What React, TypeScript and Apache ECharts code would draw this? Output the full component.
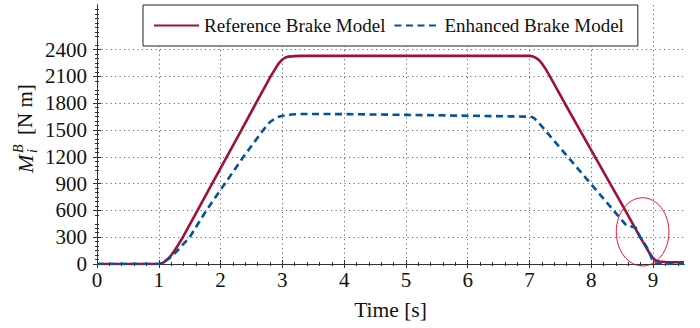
import React, { useEffect, useRef } from "react";
import * as echarts from "echarts";

const REF_TIME = [0, 0.5, 1.0, 1.05, 1.1, 1.15, 1.2, 1.25, 1.3, 1.35, 1.39, 1.627, 1.863, 2.1, 2.337, 2.573, 2.81, 2.88, 2.94, 3.0, 3.05, 3.1, 3.2, 3.3, 3.5, 4, 5, 6, 7.0, 7.05, 7.1, 7.15, 7.2, 7.25, 7.33, 7.57, 7.815, 8.06, 8.305, 8.55, 8.79, 8.93, 8.99, 9.04, 9.1, 9.2, 9.35, 9.5];
const REF_VAL = [0, 0, 0, 8, 28, 58, 97, 145, 198, 255, 300, 600, 900, 1200, 1500, 1800, 2100, 2180, 2245, 2290, 2312, 2322, 2328, 2330, 2330, 2330, 2330, 2330, 2330, 2325, 2310, 2285, 2245, 2195, 2100, 1800, 1500, 1200, 900, 600, 300, 135, 75, 40, 28, 22, 20, 18];

const ENH_TIME = [0, 0.5, 1.0, 1.05, 1.1, 1.2, 1.3, 1.4, 1.5, 1.77, 2.07, 2.37, 2.69, 2.8, 2.87, 2.93, 3.0, 3.1, 3.2, 3.3, 3.5, 4, 5, 6, 7.0, 7.04, 7.08, 7.12, 7.2, 8.57, 8.65, 8.72, 8.79, 8.9, 8.98, 9.02, 9.05, 9.2, 9.5];
const ENH_VAL = [0, 0, 0, 10, 30, 80, 150, 225, 300, 600, 900, 1200, 1500, 1590, 1625, 1645, 1660, 1670, 1676, 1679, 1680, 1678, 1670, 1660, 1650, 1645, 1630, 1600, 1540, 430, 420, 405, 300, 185, 60, 15, 5, 3, 3];

const X_TICKS = [0, 1, 2, 3, 4, 5, 6, 7, 8, 9];
const Y_TICKS = [0, 300, 600, 900, 1200, 1500, 1800, 2100, 2400];

// annotation ellipse: [center time, center value, radius time, radius value]
const ELLIPSE = [[8.83, 360, 0.426, 382]];

const SERIES_NAMES = ["Reference Brake Model", "Enhanced Brake Model"];

const RED = "#A11035";
const BLUE = "#00549F";
const FONT = "Liberation Serif";
const AXIS_COLOR = "#333";
const TEXT = "#111";

export default function App() {
  const ref = useRef<HTMLDivElement>(null);
  useEffect(() => {
    if (!ref.current) return;
    const chart = echarts.init(ref.current, null, { renderer: "svg" });
    const refData = REF_TIME.map((t, i) => [t, REF_VAL[i]]);
    const enhData = ENH_TIME.map((t, i) => [t, ENH_VAL[i]]);
    const commonX = {
      type: "value",
      min: 0,
      max: 9.5,
      axisLine: { show: true, lineStyle: { color: AXIS_COLOR, width: 1 } },
      axisTick: { show: true, inside: true, length: 4, customValues: X_TICKS, lineStyle: { color: AXIS_COLOR } },
      minorTick: { show: true, splitNumber: 10, length: 2, lineStyle: { color: AXIS_COLOR } },
    };
    const commonY = {
      type: "value",
      min: 0,
      max: 2900,
      axisLine: { show: true, lineStyle: { color: AXIS_COLOR, width: 1 } },
      axisTick: { show: true, inside: true, length: 4, customValues: Y_TICKS, lineStyle: { color: AXIS_COLOR } },
      minorTick: { show: true, splitNumber: 10, length: 2, lineStyle: { color: AXIS_COLOR } },
    };
    const gridLine = { type: [1.2, 3.3], color: "#666", width: 1 };
    const fmt = (v: number) => String(v);
    chart.setOption({
      animation: false,
      backgroundColor: "#fff",
      textStyle: { fontFamily: FONT },
      grid: { left: 97, right: 16, top: 5, bottom: 64, containLabel: false },
      legend: {
        data: SERIES_NAMES,
        left: 143,
        top: 5,
        padding: [11, 14, 11, 10],
        itemGap: 8,
        itemWidth: 45,
        itemHeight: 2,
        itemStyle: { opacity: 0 },
        backgroundColor: "#fff",
        borderColor: "#222",
        borderWidth: 1,
        borderRadius: 0,
        textStyle: { fontFamily: FONT, fontSize: 19, color: TEXT },
      },
      xAxis: [
        {
          ...commonX,
          position: "bottom",
          name: "Time [s]",
          nameLocation: "middle",
          nameGap: 35,
          nameTextStyle: { fontFamily: FONT, fontSize: 21.5, color: TEXT },
          axisLabel: { show: true, customValues: X_TICKS, formatter: fmt, margin: 5, fontFamily: FONT, fontSize: 21, color: TEXT },
          splitLine: { show: true, lineStyle: gridLine },
        },
        {
          ...commonX,
          position: "top",
          axisLabel: { show: false },
          splitLine: { show: false },
        },
      ],
      yAxis: [
        {
          ...commonY,
          position: "left",
          axisLabel: { show: true, customValues: Y_TICKS, formatter: fmt, margin: 10, fontFamily: FONT, fontSize: 21, color: TEXT },
          splitLine: { show: true, lineStyle: gridLine },
        },
        {
          ...commonY,
          position: "right",
          axisLabel: { show: false },
          splitLine: { show: false },
        },
      ],
      graphic: [
        {
          type: "group",
          x: 25,
          y: 130,
          rotation: Math.PI / 2,
          children: [
            { type: "text", x: -43, y: 0, style: { text: "M", fontFamily: FONT, fontStyle: "italic", fontSize: 22, fill: TEXT, verticalAlign: "middle", align: "left" } },
            { type: "text", x: -23, y: -7, style: { text: "B", fontFamily: FONT, fontStyle: "italic", fontSize: 14, fill: TEXT, verticalAlign: "middle", align: "left" } },
            { type: "text", x: -23, y: 7, style: { text: "i", fontFamily: FONT, fontStyle: "italic", fontSize: 14, fill: TEXT, verticalAlign: "middle", align: "left" } },
            { type: "text", x: -5, y: 0, style: { text: "[N m]", fontFamily: FONT, fontSize: 21, fill: TEXT, verticalAlign: "middle", align: "left" } },
          ],
        },
      ],
      series: [
        {
          name: SERIES_NAMES[0],
          type: "line",
          data: refData,
          showSymbol: false,
          symbol: "none",
          lineStyle: { color: RED, width: 2.6 },
          itemStyle: { color: RED },
          z: 2,
        },
        {
          name: SERIES_NAMES[1],
          type: "line",
          data: enhData,
          showSymbol: false,
          symbol: "none",
          lineStyle: { color: BLUE, width: 2.6, type: [7, 4.5] },
          itemStyle: { color: BLUE },
          z: 3,
        },
        {
          type: "custom",
          data: ELLIPSE,
          clip: false,
          silent: true,
          z: 4,
          renderItem: (params: any, api: any) => {
            const c = api.coord([api.value(0), api.value(1)]);
            const s = api.size([api.value(2), api.value(3)]);
            return {
              type: "ellipse",
              shape: { cx: c[0], cy: c[1], rx: s[0], ry: s[1] },
              style: { fill: "none", stroke: "#E3001B", lineWidth: 0.9 },
            };
          },
        },
      ],
    });
    return () => chart.dispose();
  }, []);
  return <div ref={ref} style={{ position: "fixed", left: 0, top: 0, width: 700, height: 328 }} />;
}
